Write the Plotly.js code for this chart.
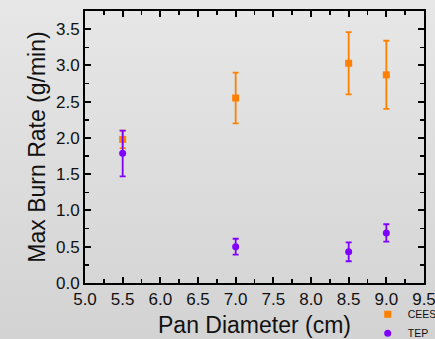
<!DOCTYPE html>
<html><head>
<script src="https://cdn.plot.ly/plotly-3.0.1.min.js"></script>
<style>
html,body{margin:0;padding:0;width:435px;height:339px;overflow:hidden;background:linear-gradient(180deg,#e7e7e7 0%,#d3d3d3 100%);}
#c{width:435px;height:339px;}
</style>
</head><body><div id="c"></div>
<script>
const diameter = [5.5, 7.0, 8.5, 9.0];
const ceesRate = [1.98, 2.55, 3.03, 2.87];
const ceesErr = [0.12, 0.35, 0.43, 0.47];
const tepRate = [1.79, 0.50, 0.43, 0.69];
const tepErrPlus = [0.31, 0.11, 0.13, 0.12];
const tepErrMinus = [0.32, 0.11, 0.13, 0.12];

const font = "Liberation Sans, Arial, sans-serif";
const traces = [
  {x: diameter, y: ceesRate, name: 'CEES', type: 'scatter', mode: 'markers',
   marker: {symbol: 'square', size: 7, color: '#FF8000'},
   error_y: {type: 'data', array: ceesErr, color: '#FF8000', thickness: 1.8, width: 3}},
  {x: diameter, y: tepRate, name: 'TEP', type: 'scatter', mode: 'markers',
   marker: {symbol: 'circle', size: 7, color: '#8000FF'},
   error_y: {type: 'data', symmetric: false, array: tepErrPlus, arrayminus: tepErrMinus, color: '#8000FF', thickness: 1.8, width: 3}}
];
const axisCommon = {
  showline: true, linewidth: 2, linecolor: '#000', mirror: 'allticks',
  ticks: 'inside', ticklen: 6, tickwidth: 2, tickcolor: '#000',
  showgrid: false, zeroline: false, automargin: false, ticklabeloverflow: 'allow',
  tickfont: {family: font, size: 17, color: '#111'},
  minor: {ticks: 'inside', ticklen: 4, tickwidth: 1.5, tickcolor: '#000', dtick: 0.25, showgrid: false}
};
const layout = {
  width: 435, height: 339,
  margin: {l: 85, r: 11, t: 11, b: 56, autoexpand: false},
  paper_bgcolor: 'rgba(0,0,0,0)', plot_bgcolor: 'rgba(0,0,0,0)',
  showlegend: true,
  legend: {x: 0.834, y: -0.062, xanchor: 'left', yanchor: 'top', bgcolor: 'rgba(0,0,0,0)',
           font: {family: font, size: 10.5, color: '#111'}, itemwidth: 30, tracegroupgap: 0},
  xaxis: Object.assign({}, axisCommon, {range: [5.0, 9.5], dtick: 0.5, tick0: 5.0, tickformat: '.1f',
    title: {text: 'Pan Diameter (cm)', font: {family: font, size: 23, color: '#111'}, standoff: 8}}),
  yaxis: Object.assign({}, axisCommon, {range: [0, 3.75], dtick: 0.5, tick0: 0, tickformat: '.1f',
    title: {text: 'Max Burn Rate (g/min)', font: {family: font, size: 23, color: '#111'}, standoff: 4}})
};
Plotly.newPlot('c', traces, layout, {staticPlot: true, displayModeBar: false});
</script>
</body></html>
